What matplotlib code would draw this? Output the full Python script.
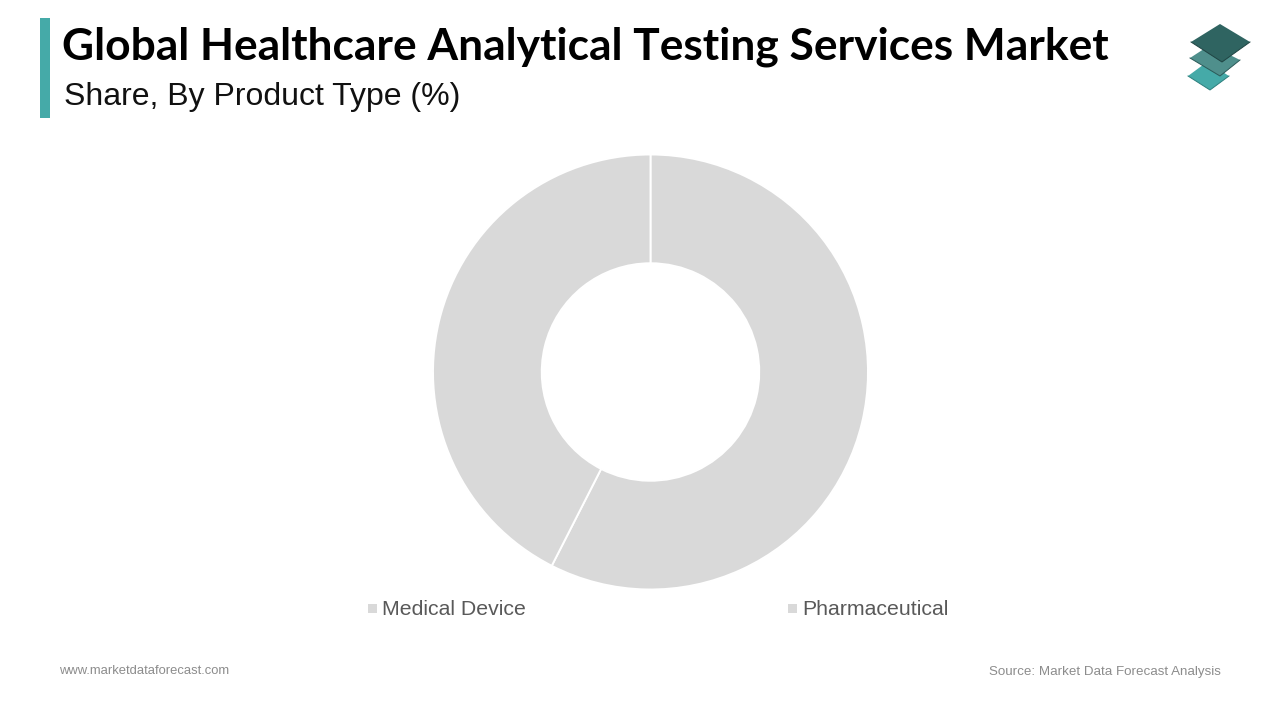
import matplotlib
matplotlib.use("Agg")
import matplotlib.pyplot as plt
from matplotlib.patches import Polygon, Rectangle

labels = ['Medical Device', 'Pharmaceutical']
shares = [57.5, 42.5]
legend_x = [368, 788]

W, H = 1280, 720
TEAL = '#45aaa8'
GREY = '#d9d9d9'

fig = plt.figure(figsize=(W / 100, H / 100), dpi=100, facecolor='white')

# background layer in pixel coords
bg = fig.add_axes([0, 0, 1, 1])
bg.set_xlim(0, W)
bg.set_ylim(H, 0)
bg.axis('off')

bg.add_patch(Rectangle((40, 18), 10, 100, color=TEAL, lw=0))
bg.text(62, 46.5, 'Global Healthcare Analytical Testing Services Market', fontsize=31.85,
        family='Lato', weight='bold', color='black', va='center', ha='left')
bg.text(64, 97.5, 'Share, By Product Type (%)', fontsize=23, family='Liberation Sans',
        color='#111111', va='center', ha='left')

# logo, bottom layer first
bg.add_patch(Polygon([(1207, 62), (1229, 76), (1210, 90), (1188, 76)], color='#45aaa8', lw=0))
bg.plot([1188, 1210, 1229], [76, 90, 76], color='#2c7f7d', lw=0.7)
bg.add_patch(Polygon([(1210, 45), (1240, 60), (1220, 76), (1190, 58)], color='#4f8f8c', lw=0))
bg.plot([1190, 1220, 1240], [58, 76, 60], color='#2b5a58', lw=0.7)
bg.add_patch(Polygon([(1220, 24), (1250, 42), (1222, 62), (1191, 42)], color='#2f6461', lw=0))
bg.plot([1191, 1222, 1250], [42, 62, 42], color='#1f4443', lw=0.7)

# donut
ax = fig.add_axes([433 / W, 1 - 589.5 / H, 435 / W, 435 / H])
ax.pie(shares, startangle=90, counterclock=False, colors=[GREY, GREY], radius=1,
       wedgeprops=dict(width=0.5, edgecolor='white', linewidth=1.4))
ax.set_xlim(-1, 1)
ax.set_ylim(-1, 1)

# legend
for lab, x in zip(labels, legend_x):
    bg.add_patch(Rectangle((x, 604), 8.5, 8.5, color=GREY, lw=0))
    bg.text(x + 14, 609.5, lab, fontsize=15.3, family='Liberation Sans', color='#595959',
            va='center', ha='left')

bg.text(59, 671.5, 'www.marketdataforecast.com', fontsize=9.4, family='Liberation Sans',
        color='#8c8c8c', va='center', ha='left')
bg.text(1221, 671.5, 'Source: Market Data Forecast Analysis', fontsize=9.6,
        family='Liberation Sans', color='#8c8c8c', va='center', ha='right')

fig.savefig('out.png', dpi=100)
